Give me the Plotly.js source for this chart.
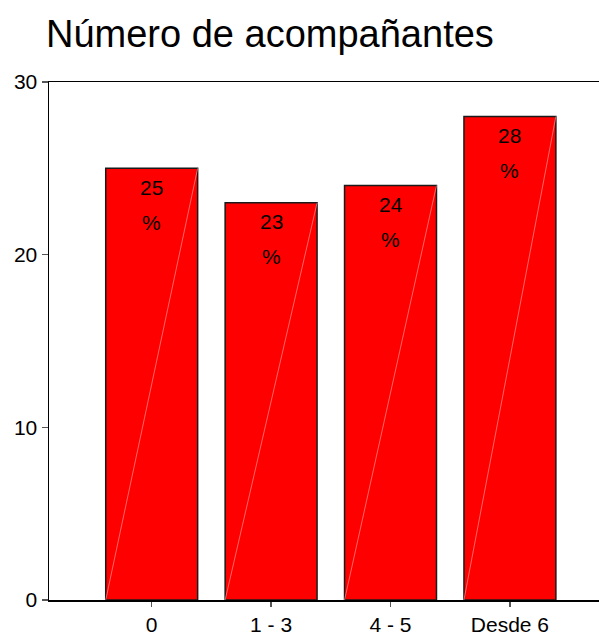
<!DOCTYPE html>
<html>
<head>
<meta charset="utf-8">
<script src="https://cdn.plot.ly/plotly-3.0.1.min.js"></script>
<style>html,body{margin:0;padding:0;background:#fff;overflow:hidden}#chart{width:599px;height:635px}</style>
</head>
<body>
<div id="chart"></div>
<script>
const categories = ['0', '1 - 3', '4 - 5', 'Desde 6'];
const values = [25, 23, 24, 28];
const yTicks = [0, 10, 20, 30];
const titleText = 'Número de acompañantes';

const positions = categories.map((c, i) => i);
const barWidth = 0.77;

const diagX = [], diagY = [];
positions.forEach((p, i) => {
  diagX.push(p - barWidth / 2, p + barWidth / 2, null);
  diagY.push(0, values[i], null);
});

const traces = [
  {
    type: 'bar',
    x: positions,
    y: values,
    width: barWidth,
    marker: { color: '#ff0000', line: { color: '#1a1a1a', width: 1.5 } },
    hoverinfo: 'skip'
  },
  {
    type: 'scatter',
    mode: 'lines',
    x: diagX,
    y: diagY,
    line: { color: '#ffa0a0', width: 0.8 },
    opacity: 0.8,
    hoverinfo: 'skip'
  }
];

const annotations = [];
positions.forEach((p, i) => {
  annotations.push({
    x: p, y: values[i], xref: 'x', yref: 'y',
    text: String(values[i]), showarrow: false,
    yanchor: 'middle', yshift: -19,
    font: { family: 'Liberation Sans, Arial, sans-serif', size: 21, color: '#000' }
  });
  annotations.push({
    x: p, y: values[i], xref: 'x', yref: 'y',
    text: '%', showarrow: false,
    yanchor: 'middle', yshift: -54,
    font: { family: 'Liberation Sans, Arial, sans-serif', size: 21, color: '#000' }
  });
});

const layout = {
  width: 599,
  height: 635,
  margin: { l: 49, r: 0, t: 82, b: 35, pad: 0 },
  paper_bgcolor: '#fff',
  plot_bgcolor: '#fff',
  showlegend: false,
  font: { family: 'Liberation Sans, Arial, sans-serif', color: '#000' },
  title: {
    text: titleText,
    xref: 'container', yref: 'container',
    x: 46 / 599, xanchor: 'left',
    y: 1 - 34 / 635, yanchor: 'middle',
    font: { family: 'Liberation Sans, Arial, sans-serif', size: 38, color: '#000' }
  },
  xaxis: {
    range: [-0.86, 3.746],
    tickvals: positions,
    ticktext: categories,
    ticks: 'outside',
    ticklen: 5,
    tickcolor: '#555',
    tickwidth: 1.5,
    tickfont: { size: 21 },
    showline: true,
    linecolor: '#000',
    linewidth: 1.5,
    mirror: true,
    showgrid: false,
    zeroline: false,
    fixedrange: true
  },
  yaxis: {
    range: [0, 30],
    tickvals: yTicks,
    ticks: 'outside',
    ticklen: 6,
    tickcolor: '#555',
    tickwidth: 1.5,
    tickfont: { size: 21 },
    showline: true,
    linecolor: '#000',
    linewidth: 1.5,
    showgrid: false,
    zeroline: false,
    fixedrange: true
  },
  annotations: annotations
};

Plotly.newPlot('chart', traces, layout, { displayModeBar: false, staticPlot: true });
</script>
</body>
</html>
